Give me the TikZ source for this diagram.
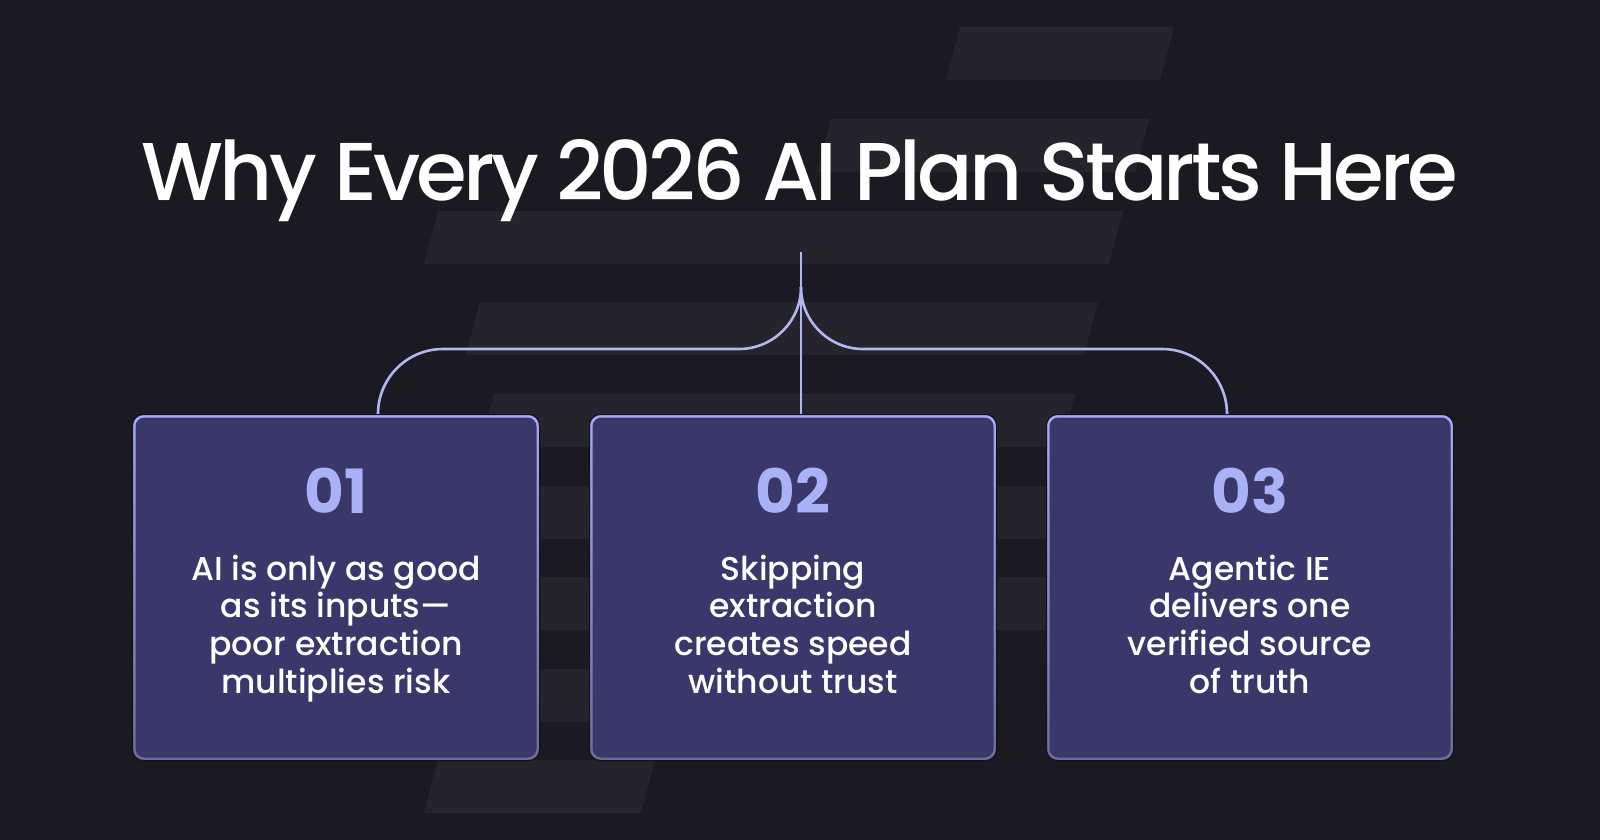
\documentclass[tikz,border=0pt]{standalone}
\usepackage{fontspec}
\setmainfont{Poppins}
\newfontfamily\pmed{Poppins Medium}
\newfontfamily\ptitle{Poppins Medium}[LetterSpace=-4.7]
\usetikzlibrary{calc}
\definecolor{bg}{HTML}{1B1921}
\definecolor{stripe}{HTML}{25232C}
\definecolor{boxfill}{HTML}{3A376A}
\definecolor{bordertop}{HTML}{A4AAF2}
\definecolor{borderbot}{HTML}{6C6E98}
\definecolor{outline}{HTML}{131118}
\definecolor{wire}{HTML}{B3B7F0}
\definecolor{numcol}{HTML}{A9B1F7}
\newcommand{\boxlines}[1]{\begin{tabular}[t]{@{}c@{}}#1\end{tabular}}
\tikzset{
  stripeshape/.style={fill=stripe},
  wireline/.style={draw=wire, line width=2.6pt},
  boxouter/.style={rectangle, rounded corners=11pt, minimum width=407pt, minimum height=346pt,
    inner sep=0pt, top color=bordertop, bottom color=borderbot, draw=outline, line width=1pt},
  boxinner/.style={rectangle, rounded corners=9pt, minimum width=401pt, minimum height=340pt,
    inner sep=0pt, fill=boxfill},
  titletext/.style={text=white, inner sep=0pt, font=\ptitle\fontsize{82}{90}\selectfont},
  numtext/.style={text=numcol, inner sep=0pt, font=\fontsize{61}{66}\selectfont\bfseries},
  bodytext/.style={text=white, inner sep=0pt, font=\pmed\fontsize{33}{37.7}\selectfont},
}
\begin{document}
\begin{tikzpicture}[x=1pt,y=-1pt]
\fill[bg] (0,0) rectangle (1600,840);
\useasboundingbox (0,0) rectangle (1600,840);
% background stripes
\foreach \t/\l/\r in {27/960/1174, 119/831/1149, 211/438/1123, 302/480/1098, 394/494/1075, 486/500/1075, 577/500/1070, 669/500/900, 760/438/655}{
  \fill[stripeshape] (\l,\t) -- (\r,\t) -- ({\r-14},{\t+53}) -- ({\l-14},{\t+53}) -- cycle;
}
% title
\node[titletext, anchor=base] (title) at (800,200) {Why Every 2026 AI Plan Starts Here};
% boxes
\node[boxouter] (b1) at (336,587.5) {};
\node[boxouter] (b2) at (793,587.5) {};
\node[boxouter] (b3) at (1250,587.5) {};
% connectors
\coordinate (hub) at (801,252);
\coordinate (cusp) at (801,287);
\coordinate (x1) at (378,0);
\coordinate (x3) at (1227,0);
\draw[wireline] (hub) -- (hub |- b2.north);
\draw[wireline] (cusp) .. controls (801,321.2) and (773.2,349) .. (739,349)
  -- (443,349) .. controls (407.1,349) and (378,378.1) .. (b1.north -| x1);
\draw[wireline] (cusp) .. controls (801,321.2) and (828.8,349) .. (863,349)
  -- (1162,349) .. controls (1197.9,349) and (1227,378.1) .. (b3.north -| x3);
% redraw boxes on top of connector ends
\node[boxouter] (b1c) at (b1) {};
\node[boxouter] (b2c) at (b2) {};
\node[boxouter] (b3c) at (b3) {};
\node[boxinner] (b1in) at (b1) {};
\node[boxinner] (b2in) at (b2) {};
\node[boxinner] (b3in) at (b3) {};
% numbers
\node[numtext, anchor=base] (n1) at (336,513) {01};
\node[numtext, anchor=base] (n2) at (793,513) {02};
\node[numtext, anchor=base] (n3) at (1250,513) {03};
% body texts
\node[bodytext, anchor=base] (t1) at (336,580) {\boxlines{AI is only as good\\as its inputs—\\poor extraction\\multiplies risk}};
\node[bodytext, anchor=base] (t2) at (793,580) {\boxlines{Skipping\\extraction\\creates speed\\without trust}};
\node[bodytext, anchor=base] (t3) at (1250,580) {\boxlines{Agentic IE\\delivers one\\verified source\\of truth}};
\end{tikzpicture}
\end{document}
